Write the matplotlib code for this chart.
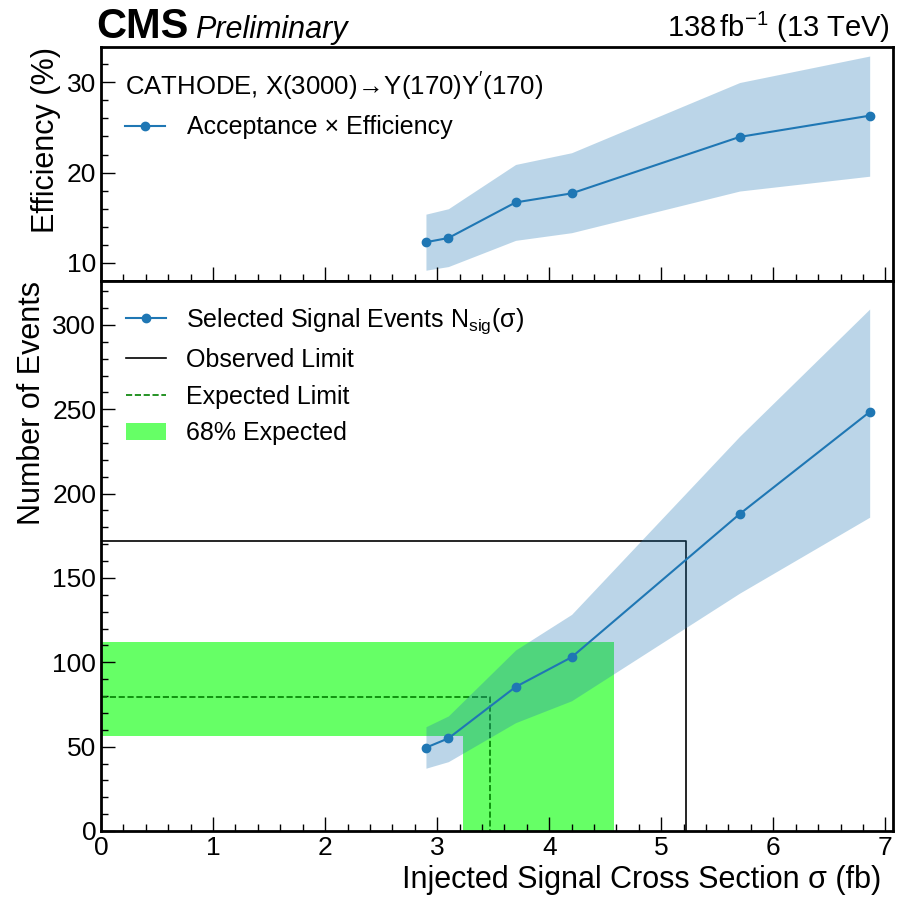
import matplotlib
matplotlib.use("Agg")
import matplotlib.pyplot as plt
from matplotlib.lines import Line2D
from matplotlib.patches import Patch
from matplotlib.ticker import MultipleLocator

plt.rcParams['font.family'] = ['Liberation Sans', 'DejaVu Sans']
plt.rcParams['mathtext.fontset'] = 'custom'
plt.rcParams['mathtext.rm'] = 'Liberation Sans'
plt.rcParams['mathtext.it'] = 'Liberation Sans:italic'
plt.rcParams['mathtext.bf'] = 'Liberation Sans:bold'

# Injected signal cross sections (fb)
sigma = [2.90, 3.10, 3.70, 4.20, 5.70, 6.86]

# Acceptance x efficiency (%) with its band
eff = [12.3, 12.76, 16.7, 17.7, 23.95, 26.3]
eff_hi = [15.4, 16.0, 20.9, 22.2, 29.97, 32.9]
eff_lo = [9.2, 9.6, 12.5, 13.35, 17.96, 19.6]

# Selected signal events with its band
nsig = [49.4, 54.9, 85.4, 103.0, 187.9, 248.4]
nsig_hi = [61.8, 68.2, 107.3, 128.4, 234.0, 309.4]
nsig_lo = [37.2, 41.1, 64.2, 77.2, 141.0, 186.0]

# Limits: (events, cross section)
obs_events, obs_sigma = 171.9, 5.22
exp_events, exp_sigma = 79.6, 3.47
exp_events_lo, exp_events_hi = 56.5, 111.9
exp_sigma_lo, exp_sigma_hi = 3.23, 4.58

blue = '#1f77b4'
green_band = '#66ff66'

fig = plt.figure(figsize=(9.09, 8.97), dpi=100)
ax_top = fig.add_axes([0.1111, 0.6867, 0.8710, 0.2609])
ax_bot = fig.add_axes([0.1111, 0.0736, 0.8710, 0.6131], sharex=ax_top)

xmax = 1.03 * sigma[-1]

# ---- efficiency panel ----
ax_top.fill_between(sigma, eff_lo, eff_hi, color=blue, alpha=0.3, lw=0)
ax_top.plot(sigma, eff, '-o', color=blue, lw=1.5, ms=6,
            label='Acceptance × Efficiency')
ax_top.set_ylim(8.0, 33.9)
ax_top.set_ylabel('Efficiency (%)', fontsize=22, loc='top')
leg1 = ax_top.legend(loc='upper left', frameon=False, fontsize=18,
                     title='CATHODE, X(3000)$\\!\\rightarrow\\!$Y(170)Y$^{\\prime}$(170)',
                     title_fontsize=18.5, handlelength=1.6, handletextpad=0.9,
                     borderaxespad=0.55)
leg1._legend_box.align = 'left'
ax_top.tick_params(labelbottom=False)
ax_top.yaxis.set_major_locator(MultipleLocator(10))
ax_top.yaxis.set_minor_locator(MultipleLocator(2))

# ---- events panel ----
band_x = [0, exp_sigma_lo, exp_sigma_lo, exp_sigma_hi, exp_sigma_hi, 0]
band_y = [exp_events_lo, exp_events_lo, 0, 0, exp_events_hi, exp_events_hi]
ax_bot.fill(band_x, band_y, color=green_band, lw=0, zorder=1)
ax_bot.plot([0, exp_sigma, exp_sigma], [exp_events, exp_events, 0],
            ls='--', color='green', lw=1.2, zorder=2)
ax_bot.plot([0, obs_sigma, obs_sigma], [obs_events, obs_events, 0],
            color='black', lw=1.2, zorder=2)
ax_bot.fill_between(sigma, nsig_lo, nsig_hi, color=blue, alpha=0.3, lw=0,
                    zorder=3)
ax_bot.plot(sigma, nsig, '-o', color=blue, lw=1.5, ms=6, zorder=4)

handles = [
    Line2D([], [], color=blue, marker='o', lw=1.5, ms=6),
    Line2D([], [], color='black', lw=1.2),
    Line2D([], [], color='green', lw=1.2, ls='--'),
    Patch(facecolor=green_band, edgecolor='none'),
]
labels = ['Selected Signal Events N$_{\\mathrm{sig}}$(σ)', 'Observed Limit',
          'Expected Limit', '68% Expected']
ax_bot.legend(handles, labels, loc='upper left', frameon=False, fontsize=18,
              handlelength=1.6, handletextpad=0.8, borderaxespad=0.6)

ax_bot.set_xlim(0, xmax)
ax_bot.set_ylim(0, 326)
ax_bot.set_ylabel('Number of Events', fontsize=22, loc='top')
ax_bot.set_xlabel('Injected Signal Cross Section σ (fb)', fontsize=22, loc='right')
ax_bot.xaxis.label.set_x(0.985)
ax_bot.xaxis.set_major_locator(MultipleLocator(1))
ax_bot.xaxis.set_minor_locator(MultipleLocator(0.2))
ax_bot.yaxis.set_major_locator(MultipleLocator(50))
ax_bot.yaxis.set_minor_locator(MultipleLocator(10))

for ax in (ax_top, ax_bot):
    ax.tick_params(which='both', direction='in', top=False, right=False,
                   labelsize=19)
    ax.tick_params(which='major', length=10, width=1.0)
    ax.tick_params(which='minor', length=5, width=1.0)
    for s in ax.spines.values():
        s.set_linewidth(2.0)

fig.text(0.106, 0.9576, 'CMS', fontsize=30, fontweight='bold', ha='left',
         va='baseline')
fig.text(0.215, 0.9576, 'Preliminary', fontsize=22, style='italic', ha='left',
         va='baseline')
fig.text(0.979, 0.9587, '138$\\,$fb$^{-1}$ (13 TeV)', fontsize=21, ha='right',
         va='baseline')

fig.savefig('out.png', dpi=100)
